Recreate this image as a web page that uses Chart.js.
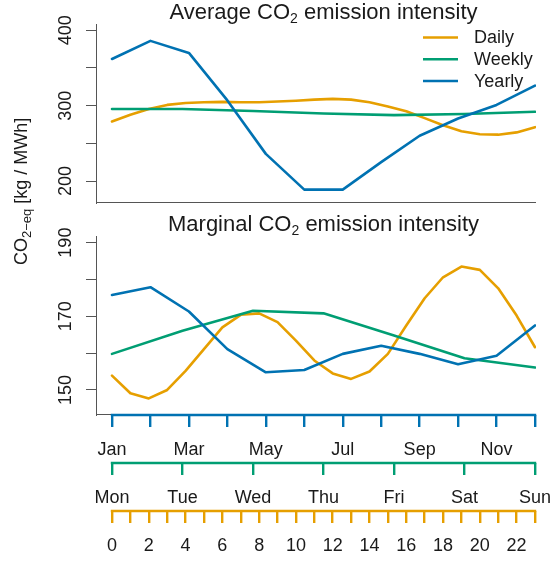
<!DOCTYPE html>
<html>
<head>
<meta charset="utf-8">
<script src="https://cdn.jsdelivr.net/npm/chart.js@4.4.1/dist/chart.umd.min.js"></script>
<style>
  html, body { margin: 0; padding: 0; background: #ffffff; }
  #wrap { position: relative; width: 550px; height: 563px; overflow: hidden; }
  #wrap canvas { position: absolute; left: 0; top: 0; }
</style>
</head>
<body>
<div id="wrap">
  <canvas id="avgChart" width="550" height="563"></canvas>
  <canvas id="margChart" width="550" height="563"></canvas>
</div>
<script>
// ---- categories ----
const hours  = [0,1,2,3,4,5,6,7,8,9,10,11,12,13,14,15,16,17,18,19,20,21,22,23];
const days   = ['Mon','Tue','Wed','Thu','Fri','Sat','Sun'];
const months = ['Jan','Feb','Mar','Apr','May','Jun','Jul','Aug','Sep','Oct','Nov','Dec'];

// ---- average emission intensity [kg CO2-eq / MWh] ----
const avgDaily  = [279, 288, 295.5, 301, 303.5, 304.5, 305, 304.5, 304.5, 305.5, 306.5, 308,
                   309, 308, 304.5, 299, 292.5, 283.5, 274, 266, 262, 261.5, 264.5, 271.5];
const avgWeekly = [295.5, 295.5, 293, 289.5, 287.5, 289, 292];
const avgYearly = [362, 386, 370, 307, 236, 188.5, 188.5, 225, 260, 283, 301, 326.5];

// ---- marginal emission intensity [kg CO2-eq / MWh] ----
const margDaily  = [153.9, 149.1, 147.7, 150, 155.2, 161.1, 167, 170.4, 170.8, 168.4, 163.4, 158,
                    154.5, 153, 155, 159.8, 167.5, 174.9, 180.6, 183.5, 182.6, 177.6, 170.2, 161.6];
const margWeekly = [159.8, 166.1, 171.5, 170.8, 164.8, 158.6, 156.1];
const margYearly = [175.8, 177.9, 171.3, 161.1, 154.8, 155.4, 159.8, 162, 159.8, 157, 159.3, 167.5];

// ---- y-axis ticks ----
const avgTicks   = [200, 250, 300, 350, 400];
const avgLabels  = [200, 300, 400];
const margTicks  = [150, 160, 170, 180, 190];
const margLabels = [150, 170, 190];

// ---- styling ----
const FONT = "'Liberation Sans', Arial, Helvetica, sans-serif";
const TEXT = '#1a1a1a';
const FRAME = '#555555';
const COLORS = { daily: '#E69F00', weekly: '#009E73', yearly: '#0072B2' };
const SERIES_NAMES = { daily: 'Daily', weekly: 'Weekly', yearly: 'Yearly' };
const PLOT_LEFT = 96, PLOT_RIGHT = 536;   // frame of both panels
const INSET_L = 16, INSET_R = 1;          // gap between frame and first/last category
const AXIS_LINE_W = 2.4;

Chart.defaults.font.family = FONT;
Chart.defaults.font.size = 18;
Chart.defaults.color = TEXT;

// linear range so that the first category sits INSET_L px right of the frame
function catRange(n) {
  const w = PLOT_RIGHT - PLOT_LEFT;
  const k = (n - 1) / (w - INSET_L - INSET_R);
  return { min: -INSET_L * k, max: (n - 1) + INSET_R * k };
}

function toPoints(values) { return values.map((v, i) => ({ x: i, y: v })); }

function series(key, values, axisId, order) {
  return {
    label: SERIES_NAMES[key], data: toPoints(values), xAxisID: axisId,
    borderColor: COLORS[key], backgroundColor: COLORS[key],
    borderWidth: 2.6, pointRadius: 0, tension: 0, order,
    borderJoinStyle: 'round', borderCapStyle: 'round'
  };
}

// rich text: parts = [{text, size, shift}], baseline at y
function drawRich(ctx, parts, x, y, align) {
  let total = 0;
  for (const p of parts) {
    ctx.font = p.size + 'px ' + FONT;
    p.w = ctx.measureText(p.text).width;
    total += p.w;
  }
  let cx = align === 'center' ? x - total / 2 : x;
  ctx.textAlign = 'left';
  ctx.textBaseline = 'alphabetic';
  for (const p of parts) {
    ctx.font = p.size + 'px ' + FONT;
    ctx.fillText(p.text, cx, y + (p.shift || 0));
    cx += p.w;
  }
}

function yScale(min, max, ticks) {
  return {
    type: 'linear', position: 'left', min, max,
    afterBuildTicks: s => { s.ticks = ticks.map(v => ({ value: v })); },
    afterFit: s => { s.width = PLOT_LEFT; },
    border: { display: true, color: FRAME, width: 1 },
    grid: { drawOnChartArea: false, drawTicks: true, tickLength: 10, color: FRAME, lineWidth: 1 },
    ticks: { display: false }
  };
}

function hiddenX(n) {
  const r = catRange(n);
  return { type: 'linear', display: false, min: r.min, max: r.max };
}

function shownX(n, color, weight, height, labelFn) {
  const r = catRange(n);
  const idx = Array.from({ length: n }, (_, i) => i);
  return {
    type: 'linear', position: 'bottom', weight, min: r.min, max: r.max,
    afterBuildTicks: s => { s.ticks = idx.map(v => ({ value: v })); },
    afterFit: s => { s.height = height; s.paddingLeft = 0; s.paddingRight = 0; },
    border: { display: false },
    grid: { drawOnChartArea: false, drawTicks: true, tickLength: 12, color, lineWidth: AXIS_LINE_W },
    ticks: {
      autoSkip: false, minRotation: 0, maxRotation: 0, padding: 12, color: TEXT,
      font: { size: 18 }, callback: v => labelFn(Math.round(v))
    }
  };
}

// panel frame, rotated y tick labels and panel title
function panelPlugin(id, titleParts, labels) {
  return {
    id,
    beforeDatasetsDraw(chart) {
      const { ctx, chartArea } = chart;
      ctx.save();
      ctx.strokeStyle = FRAME;
      ctx.lineWidth = 1;
      ctx.beginPath();
      const y = Math.round(chartArea.bottom) - 0.5;
      ctx.moveTo(chartArea.left, y);
      ctx.lineTo(chartArea.right, y);
      ctx.stroke();
      ctx.restore();
    },
    afterDraw(chart) {
      const { ctx, chartArea } = chart;
      const ys = chart.scales.y;
      ctx.save();
      ctx.fillStyle = TEXT;
      ctx.font = '18px ' + FONT;
      for (const v of labels) {
        const py = ys.getPixelForValue(v);
        ctx.save();
        ctx.translate(71, py);
        ctx.rotate(-Math.PI / 2);
        ctx.textAlign = 'center';
        ctx.textBaseline = 'alphabetic';
        ctx.fillText(String(v), 0, 0);
        ctx.restore();
      }
      const mid = (chartArea.left + INSET_L + chartArea.right - INSET_R) / 2;
      drawRich(ctx, titleParts, mid, chartArea.top - 5.5, 'center');
      ctx.restore();
    }
  };
}

const titleSize = 22, subSize = 14;

// ---------------- average panel ----------------
const avgChart = new Chart(document.getElementById('avgChart'), {
  type: 'line',
  data: {
    datasets: [
      series('daily', avgDaily, 'xDay', 3),
      series('weekly', avgWeekly, 'xWeek', 2),
      series('yearly', avgYearly, 'xYear', 1)
    ]
  },
  options: {
    responsive: false, animation: false, devicePixelRatio: 1,
    layout: { padding: { top: 24, bottom: 563 - 203, left: 0, right: 550 - PLOT_RIGHT } },
    plugins: { legend: { display: false }, tooltip: { enabled: false }, title: { display: false } },
    scales: {
      xDay: hiddenX(hours.length),
      xWeek: hiddenX(days.length),
      xYear: hiddenX(months.length),
      y: yScale(170.8, 408.4, avgTicks)
    }
  },
  plugins: [
    panelPlugin('avgPanel', [
      { text: 'Average CO', size: titleSize },
      { text: '2', size: subSize, shift: 4 },
      { text: ' emission intensity', size: titleSize }
    ], avgLabels),
    {
      id: 'legendAndAxisTitle',
      afterDraw(chart) {
        const { ctx } = chart;
        ctx.save();
        // legend
        const rows = [['daily', 37.5], ['weekly', 59.3], ['yearly', 81]];
        ctx.lineWidth = 2.6;
        ctx.lineCap = 'butt';
        ctx.font = '18px ' + FONT;
        ctx.textAlign = 'left';
        ctx.textBaseline = 'middle';
        for (const [key, y] of rows) {
          ctx.strokeStyle = COLORS[key];
          ctx.beginPath();
          ctx.moveTo(423, y);
          ctx.lineTo(458, y);
          ctx.stroke();
          ctx.fillStyle = TEXT;
          ctx.fillText(SERIES_NAMES[key], 474, y + 1);
        }
        // shared y-axis title
        ctx.fillStyle = TEXT;
        ctx.translate(26.5, 265);
        ctx.rotate(-Math.PI / 2);
        drawRich(ctx, [
          { text: 'CO', size: 18 },
          { text: '2\u2212eq', size: 13, shift: 4 },
          { text: ' [kg / MWh]', size: 18 }
        ], 0, 0, 'left');
        ctx.restore();
      }
    }
  ]
});

// ---------------- marginal panel ----------------
// coloured axis lines spanning first to last category of each time scale
const axisLines = {
  id: 'axisLines',
  afterDraw(chart) {
    const { ctx } = chart;
    const defs = [['xYear', COLORS.yearly], ['xWeek', COLORS.weekly], ['xDay', COLORS.daily]];
    ctx.save();
    ctx.lineWidth = AXIS_LINE_W;
    ctx.lineCap = 'butt';
    for (const [id, color] of defs) {
      const s = chart.scales[id];
      const n = s.ticks.length;
      const y = Math.round(s.top);
      ctx.strokeStyle = color;
      ctx.beginPath();
      ctx.moveTo(s.getPixelForValue(0) - AXIS_LINE_W / 2, y);
      ctx.lineTo(s.getPixelForValue(n - 1) + AXIS_LINE_W / 2, y);
      ctx.stroke();
    }
    ctx.restore();
  }
};

const margChart = new Chart(document.getElementById('margChart'), {
  type: 'line',
  data: {
    datasets: [
      series('daily', margDaily, 'xDay', 3),
      series('weekly', margWeekly, 'xWeek', 2),
      series('yearly', margYearly, 'xYear', 1)
    ]
  },
  options: {
    responsive: false, animation: false, devicePixelRatio: 1,
    layout: { padding: { top: 236, bottom: 0, left: 0, right: 550 - PLOT_RIGHT } },
    plugins: { legend: { display: false }, tooltip: { enabled: false }, title: { display: false } },
    scales: {
      xYear: shownX(months.length, COLORS.yearly, 1, 48, i => (i % 2 === 0 ? months[i] : '')),
      xWeek: shownX(days.length, COLORS.weekly, 2, 48, i => days[i]),
      xDay: shownX(hours.length, COLORS.daily, 3, 563 - 415 - 96, i => (i % 2 === 0 ? String(hours[i]) : '')),
      y: yScale(143.2, 191.8, margTicks)
    }
  },
  plugins: [
    panelPlugin('margPanel', [
      { text: 'Marginal CO', size: titleSize },
      { text: '2', size: subSize, shift: 4 },
      { text: ' emission intensity', size: titleSize }
    ], margLabels),
    axisLines
  ]
});
</script>
</body>
</html>
